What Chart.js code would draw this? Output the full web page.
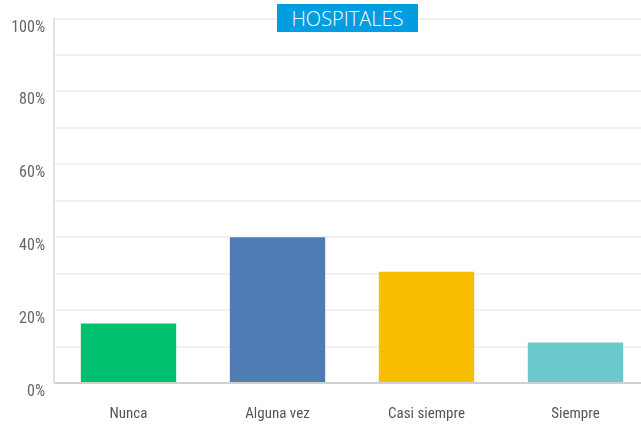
<!DOCTYPE html>
<html>
<head>
<meta charset="utf-8">
<script src="https://cdn.jsdelivr.net/npm/chart.js@4.4.0/dist/chart.umd.min.js"></script>
<style>
  html, body { margin: 0; padding: 0; background: #fff; overflow: hidden; }
  #wrap { position: relative; width: 650px; height: 427px; }
  #badge {
    position: absolute; left: 277px; top: 4px; width: 141px; height: 28px;
    background: #009ee0; color: #fff; font-family: "Open Sans", sans-serif;
    font-weight: 300; font-size: 20px; line-height: 29px; text-align: center;
  }
</style>
</head>
<body>
<div id="wrap">
  <canvas id="hosp-chart" width="650" height="427"></canvas>
  <div id="badge">HOSPITALES</div>
</div>
<script>
// Respuestas
const categories = ['Nunca', 'Alguna vez', 'Casi siempre', 'Siempre'];
const percentages = [16.3, 40, 30.5, 11.1];
const barColors = ['#00bf6f', '#507cb6', '#f9be00', '#6bc8cd'];
const yTicks = [0, 20, 40, 60, 80, 100];

const chartEl = document.getElementById('hosp-chart').getContext('2d');

const labelFont = { family: '"Liberation Sans Narrow", "Roboto Condensed", "DejaVu Sans Condensed", sans-serif', size: 15 };

new Chart(chartEl, {
    type: 'bar',
    data: {
        labels: categories,
        datasets: [{
            data: percentages,
            backgroundColor: barColors,
            borderWidth: 0,
            categoryPercentage: 1,
            barPercentage: 0.64,
        }]
    },
    options: {
        responsive: false,
        animation: false,
        layout: { padding: { top: 14, right: 0, left: 0, bottom: 0 } },
        plugins: {
            legend: { display: false },
            tooltip: { enabled: false },
        },
        scales: {
            x: {
                grid: { display: false, drawTicks: false },
                border: { color: '#d0d0d0', width: 2 },
                ticks: { color: '#555', font: labelFont, padding: 22 },
                afterFit: (axis) => { axis.height = 44; },
            },
            y: {
                min: 0,
                max: 100,
                grid: { color: '#f1f1f1', lineWidth: 2, drawTicks: false },
                border: { color: '#e2e2e2', width: 2 },
                ticks: {
                    stepSize: 10,
                    color: '#666',
                    font: { ...labelFont, size: 16 },
                    padding: 9,
                    labelOffset: 9,
                    callback: (v) => yTicks.includes(v) ? v + '%' : '',
                },
                afterFit: (axis) => { axis.width = 54; },
            }
        }
    }
});
</script>
</body>
</html>
